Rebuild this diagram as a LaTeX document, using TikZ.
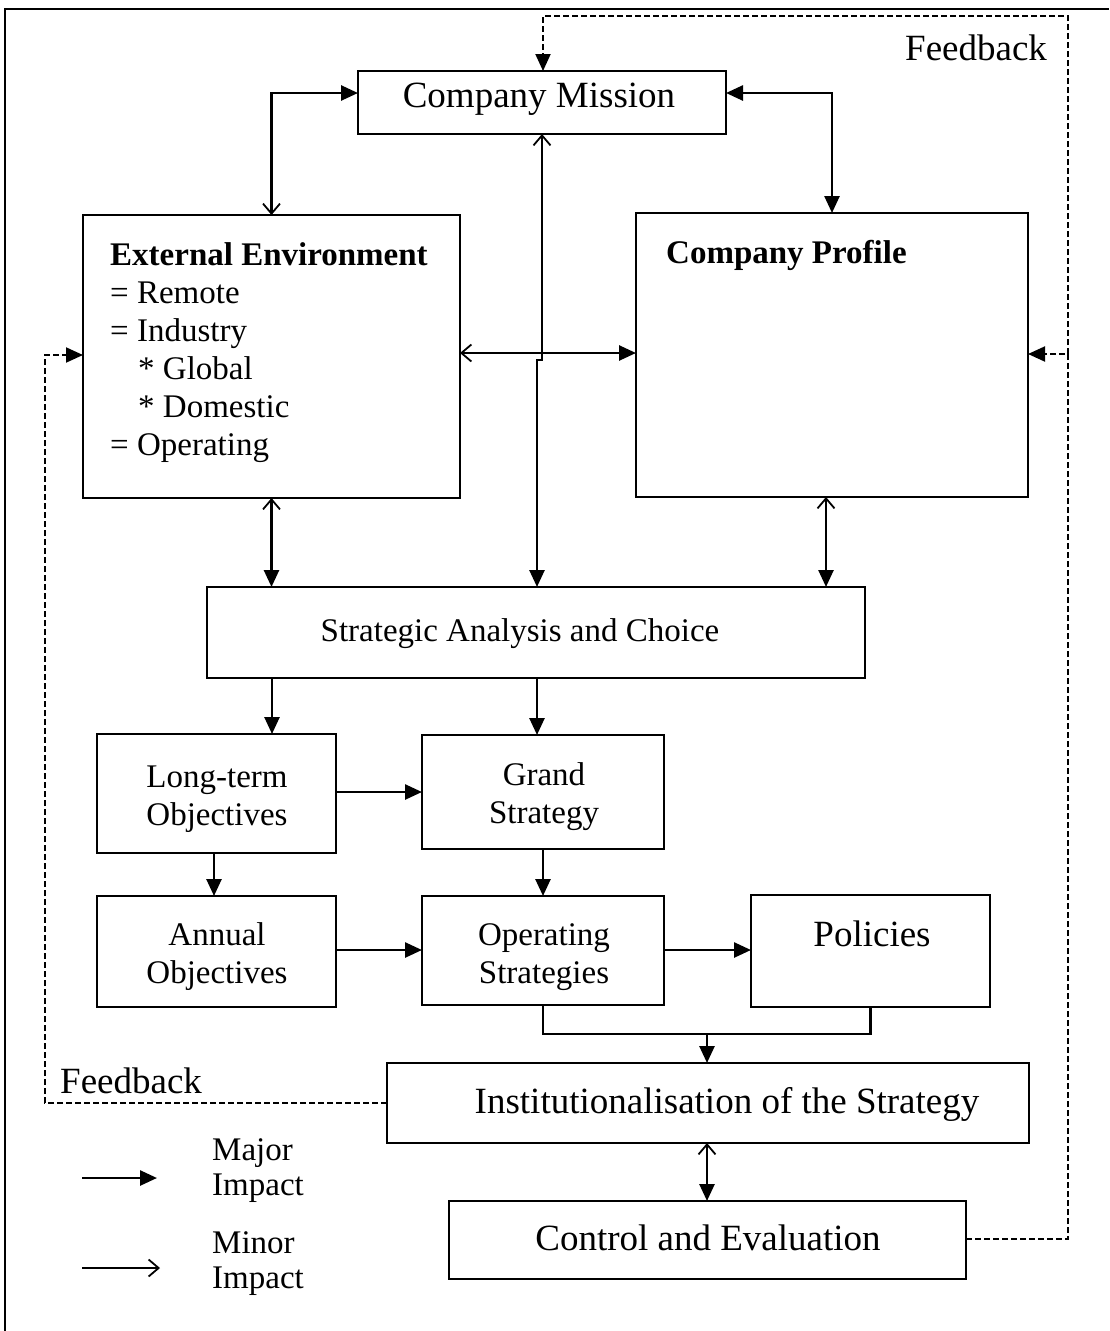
\documentclass[tikz,border=0pt]{standalone}
\usepackage{fontspec}
\setmainfont{Liberation Serif}
\usetikzlibrary{arrows.meta}

\tikzset{
  framestroke/.style={line width=2.6pt},
  box/.style={draw, line width=2.6pt, inner sep=0pt, outer sep=0pt},
  conn/.style={line width=2.6pt},
  fb/.style={line width=2pt, dash pattern=on 6pt off 3pt},
  MajorTip/.tip={Triangle[length=17pt,width=15pt]},
  MinorTip/.tip={Straight Barb[length=10pt,width=17pt,line width=1.8pt]},
  lbl/.style={font=\fontsize{33}{38}\selectfont, inner sep=0pt},
  biglbl/.style={font=\fontsize{37}{42}\selectfont, inner sep=0pt},
}

\begin{document}
\begin{tikzpicture}[x=1pt,y=-1pt]
\useasboundingbox (0,0) rectangle (1109,1331);

% outer frame (top and left edges)
\coordinate (frameBL) at (5,1331);
\coordinate (frameTL) at (5,9);
\coordinate (frameTR) at (1109,9);
\draw[framestroke] (frameBL) -- (frameTL) -- (frameTR);

% boxes
\node[box, minimum width=368pt, minimum height=63pt]  (mission) at (542,102.5) {};
\node[box, minimum width=377pt, minimum height=283pt] (ext)     at (271.5,356.5) {};
\node[box, minimum width=392pt, minimum height=284pt] (profile) at (832,355) {};
\node[box, minimum width=658pt, minimum height=91pt]  (strat)   at (536,632.5) {};
\node[box, minimum width=239pt, minimum height=119pt] (lt)      at (216.5,793.5) {};
\node[box, minimum width=242pt, minimum height=114pt] (grand)   at (543,792) {};
\node[box, minimum width=239pt, minimum height=111pt] (annual)  at (216.5,951.5) {};
\node[box, minimum width=242pt, minimum height=109pt] (op)      at (543,950.5) {};
\node[box, minimum width=239pt, minimum height=112pt] (pol)     at (870.5,951) {};
\node[box, minimum width=642pt, minimum height=80pt]  (inst)    at (708,1103) {};
\node[box, minimum width=517pt, minimum height=78pt]  (ctrl)    at (707.5,1240) {};

% box texts
\node[biglbl, anchor=base] (missiontxt) at (539,107) {Company Mission};
\node[lbl, anchor=north west, align=left] (exttxt) at (110,242)
  {\textbf{External Environment}\\= Remote\\= Industry\\\hspace*{28pt}* Global\\\hspace*{28pt}* Domestic\\= Operating};
\node[lbl, anchor=base west] (proftxt) at (666,263) {\textbf{Company Profile}};
\node[lbl, anchor=base] (strattxt) at (520,641) {Strategic Analysis and Choice};
\node[lbl, align=center] (lttxt) at (217,799) {Long-term\\Objectives};
\node[lbl, align=center] (grandtxt) at (544,797) {Grand\\Strategy};
\node[lbl, align=center] (annualtxt) at (217,957) {Annual\\Objectives};
\node[lbl, align=center] (optxt) at (544,957) {Operating\\Strategies};
\node[biglbl, anchor=base] (poltxt) at (872,946) {Policies};
\node[biglbl, anchor=base] (insttxt) at (727,1113) {Institutionalisation of the Strategy};
\node[biglbl, anchor=base] (ctrltxt) at (708,1250) {Control and Evaluation};

% feedback labels
\node[biglbl, anchor=base west] (fbtop) at (905,60) {Feedback};
\node[biglbl, anchor=base west] (fbbot) at (60,1093) {Feedback};

% connectors: mission, environment, profile
\draw[conn, MinorTip-MajorTip] (ext.north) |- (mission.west |- 0,93);
\draw[conn, MajorTip-MajorTip] (mission.east |- 0,93) -| (profile.north);
\coordinate (jogA) at (542,360);
\coordinate (jogB) at (537,360);
\draw[conn, MinorTip-MajorTip] (mission.south) -- (jogA) -- (jogB) -- (strat.north -| jogB);
\draw[conn, MinorTip-MajorTip] (ext.east |- 0,353) -- (profile.west |- 0,353);
\draw[conn, MinorTip-MajorTip] (ext.south) -- (strat.north -| ext.south);
\draw[conn, MinorTip-MajorTip] (profile.south -| 826,0) -- (strat.north -| 826,0);

% connectors: strategy chain
\draw[conn, -MajorTip] (strat.south -| 272,0) -- (lt.north -| 272,0);
\draw[conn, -MajorTip] (strat.south -| 537,0) -- (grand.north -| 537,0);
\draw[conn, -MajorTip] (lt.east |- 0,792) -- (grand.west |- 0,792);
\draw[conn, -MajorTip] (lt.south -| 214,0) -- (annual.north -| 214,0);
\draw[conn, -MajorTip] (grand.south) -- (op.north);
\draw[conn, -MajorTip] (annual.east |- 0,950) -- (op.west |- 0,950);
\draw[conn, -MajorTip] (op.east |- 0,950) -- (pol.west |- 0,950);
\coordinate (merge) at (707,1034);
\draw[conn] (op.south) |- (merge) -| (pol.south);
\draw[conn, -MajorTip] (merge) -- (inst.north -| merge);
\draw[conn, MinorTip-MajorTip] (inst.south -| merge) -- (ctrl.north -| merge);

% feedback loops
\coordinate (fbRB) at (1068,1239);
\coordinate (fbRM) at (1068,354);
\coordinate (fbRT) at (1068,16);
\coordinate (fbMT) at (543,16);
\draw[fb, -MajorTip] (ctrl.east |- fbRB) -- (fbRB) -- (fbRM) -- (profile.east |- fbRM);
\draw[fb, -MajorTip] (fbRM) -- (fbRT) -- (fbMT) -- (mission.north -| fbMT);
\coordinate (fbLB) at (45,1103);
\coordinate (fbLT) at (45,355);
\draw[fb, -MajorTip] (inst.west) -- (fbLB) -- (fbLT) -- (ext.west |- fbLT);

% legend
\coordinate (majA) at (82,1178);
\coordinate (majB) at (157,1178);
\coordinate (minA) at (82,1268);
\coordinate (minB) at (160,1268);
\draw[conn, -MajorTip] (majA) -- (majB);
\draw[conn, -MinorTip] (minA) -- (minB);
\node[lbl, anchor=north west, align=left, font=\fontsize{33}{35}\selectfont] (majtxt) at (212,1138) {Major\\Impact};
\node[lbl, anchor=north west, align=left, font=\fontsize{33}{35}\selectfont] (mintxt) at (212,1231) {Minor\\Impact};
\end{tikzpicture}
\end{document}
